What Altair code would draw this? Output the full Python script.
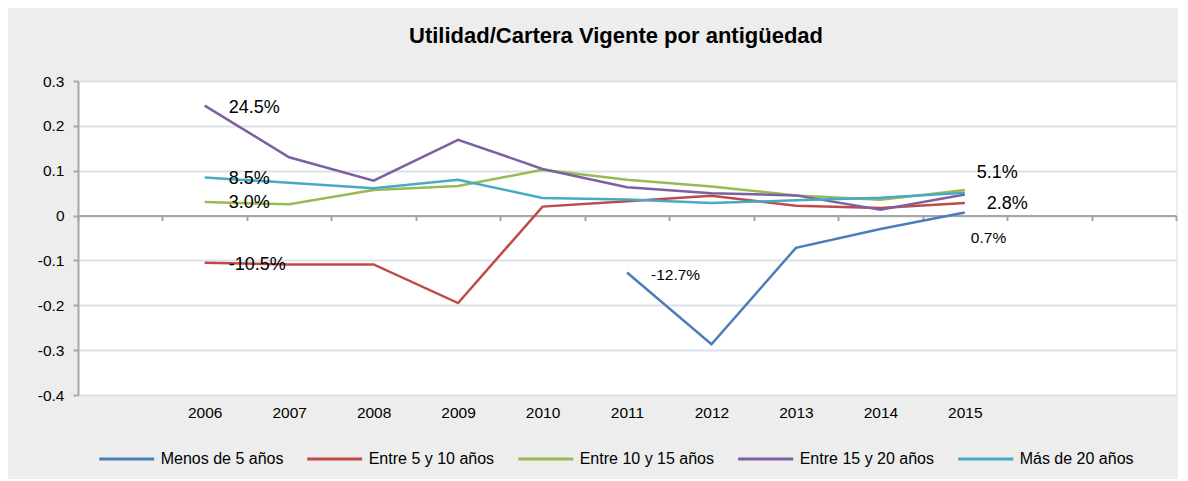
import altair as alt
import pandas as pd

FONT = "Liberation Sans"

# ---- data ----
years = [2006, 2007, 2008, 2009, 2010, 2011, 2012, 2013, 2014, 2015]
axis_slots = [2005, 2006, 2007, 2008, 2009, 2010, 2011, 2012, 2013, 2014, 2015, 2016, 2017]
series_names = ["Menos de 5 años", "Entre 5 y 10 años", "Entre 10 y 15 años",
                "Entre 15 y 20 años", "Más de 20 años"]
colors = ["#4A7EBB", "#BE4B48", "#98B954", "#7D60A0", "#46AAC5"]

menos_5 = [None, None, None, None, None, -0.127, -0.287, -0.072, -0.030, 0.007]
entre_5_10 = [-0.105, -0.109, -0.109, -0.195, 0.020, 0.032, 0.044, 0.022, 0.017, 0.028]
entre_10_15 = [0.030, 0.025, 0.057, 0.066, 0.102, 0.080, 0.065, 0.045, 0.035, 0.057]
entre_15_20 = [0.245, 0.130, 0.078, 0.169, 0.104, 0.063, 0.050, 0.045, 0.013, 0.047]
mas_20 = [0.085, 0.073, 0.061, 0.080, 0.039, 0.036, 0.028, 0.034, 0.040, 0.051]

y_ticks = [-0.4, -0.3, -0.2, -0.1, 0, 0.1, 0.2, 0.3]

# data labels: (series, year, text)
label_series = ["Entre 15 y 20 años", "Más de 20 años", "Entre 10 y 15 años", "Entre 5 y 10 años",
                "Menos de 5 años", "Más de 20 años", "Entre 5 y 10 años", "Menos de 5 años"]
label_years = [2006, 2006, 2006, 2006, 2011, 2015, 2015, 2015]
label_texts = ["24.5%", "8.5%", "3.0%", "-10.5%", "-12.7%", "5.1%", "2.8%", "0.7%"]

# ---- build tables ----
rows = []
for name, vals in zip(series_names, [menos_5, entre_5_10, entre_10_15, entre_15_20, mas_20]):
    for yr, v in zip(years, vals):
        if v is not None:
            rows.append({"serie": name, "anio": yr, "valor": v})
df = pd.DataFrame(rows)

lookup = {(r["serie"], r["anio"]): r["valor"] for r in rows}
lab_df = pd.DataFrame({
    "serie": label_series,
    "anio": label_years,
    "texto": label_texts,
    "valor": [lookup[(s, y)] for s, y in zip(label_series, label_years)],
})

x_enc = alt.X(
    "anio:O",
    bandPosition=0.5,
    title=None,
    scale=alt.Scale(type="band", domain=axis_slots, paddingInner=0, paddingOuter=0),
    axis=alt.Axis(
        orient="bottom", offset=-179.4, labelAngle=0,
        labelExpr="datum.value >= 2006 && datum.value <= 2015 ? datum.label : ''",
        domainColor="#A6A6A6", domainWidth=2, tickColor="#A6A6A6", tickWidth=2,
        tickSize=5, tickBand="extent", grid=False,
        labelPadding=185, labelFontSize=15.5, labelFont=FONT, labelColor="#000000",
    ),
)
y_enc = alt.Y(
    "valor:Q",
    title=None,
    scale=alt.Scale(domain=[-0.4, 0.3], nice=False, zero=False),
    axis=alt.Axis(
        values=y_ticks, labelExpr="'' + datum.value",
        domainColor="#A6A6A6", domainWidth=2, tickColor="#A6A6A6", tickWidth=2, tickSize=5,
        gridColor="#DCE1E6", gridWidth=2, labelPadding=9,
        labelFontSize=15.5, labelFont=FONT, labelColor="#000000",
    ),
)

lines = alt.Chart(df).mark_line(strokeWidth=2.5).encode(
    x=x_enc,
    y=y_enc,
    color=alt.Color(
        "serie:N",
        scale=alt.Scale(domain=series_names, range=colors),
        legend=alt.Legend(
            title=None, orient="none", legendX=19.7, legendY=349, direction="horizontal",
            columns=5, symbolType="stroke", symbolSize=3025, symbolStrokeWidth=3,
            labelFontSize=16, labelFont=FONT, labelColor="#000000", labelOffset=5,
            columnPadding=17, padding=0,
        ),
    ),
    detail="serie:N",
)


def label_layer(series, year, dx, dy, size):
    return alt.Chart(lab_df).transform_filter(
        (alt.datum.serie == series) & (alt.datum.anio == year)
    ).mark_text(
        align="left", baseline="middle", dx=dx, dy=dy, fontSize=size, font=FONT, color="#000000"
    ).encode(x=x_enc, y=y_enc, text="texto:N")


texts = [
    label_layer("Entre 15 y 20 años", 2006, 24, 2, 18),
    label_layer("Más de 20 años", 2006, 24, 2, 18),
    label_layer("Entre 10 y 15 años", 2006, 24, 1, 18),
    label_layer("Entre 5 y 10 años", 2006, 24, 2, 18),
    label_layer("Menos de 5 años", 2011, 24, 2, 15.5),
    label_layer("Más de 20 años", 2015, 12, -20, 18),
    label_layer("Entre 5 y 10 años", 2015, 22, 1, 18),
    label_layer("Menos de 5 años", 2015, 6, 26, 15.5),
]

chart = alt.layer(lines, *texts).properties(
    width=1098,
    height=314,
    padding={"left": 70, "top": 73, "right": 2, "bottom": 84},
    autosize=alt.AutoSizeParams(type="none"),
    title=alt.TitleParams(
        "Utilidad/Cartera Vigente por antigüedad",
        fontSize=22, fontWeight="bold", font=FONT, color="#000000",
        anchor="middle", dx=-11, offset=26,
    ),
).configure(background="#EDEDED").configure_view(fill="white", stroke=None)

chart.save("out.html", embed_options={"renderer": "svg", "actions": False})
